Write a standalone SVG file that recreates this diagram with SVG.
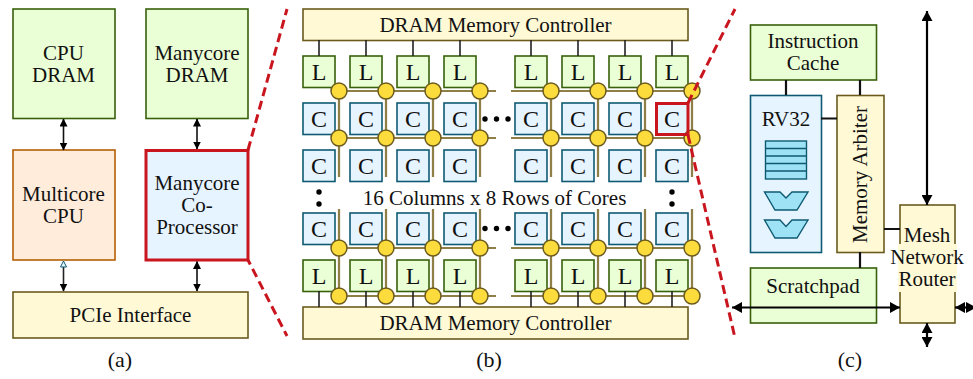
<svg xmlns="http://www.w3.org/2000/svg" xmlns:xlink="http://www.w3.org/1999/xlink" width="973" height="379" viewBox="0 0 973 379">
<style>
text{font-family:"Liberation Serif","Times New Roman",serif;font-size:21px;fill:#111;text-anchor:middle}
.big{font-size:24px}
.cap{font-size:22px}
.g{fill:#ebffd6;stroke:#38610b;stroke-width:1.6}
.o{fill:#ffecdb;stroke:#b45f06;stroke-width:1.6}
.b{fill:#e6f4ff;stroke:#0f5a73;stroke-width:1.6}
.y{fill:#fff9d6;stroke:#6b5a1e;stroke-width:1.6}
.red{fill:none;stroke:#c9151e;stroke-width:3}
.dash{stroke:#c9151e;stroke-width:3;stroke-dasharray:9 5;fill:none}
.w{stroke:#6f5f26;stroke-width:2.2;fill:none}
.wi{stroke:#d8cc96;stroke-width:.6;fill:none}
.r{fill:#fbdc3c;stroke:#6b5a1e;stroke-width:1.5}
.k{stroke:#222;stroke-width:1.6;fill:none}
.k2{stroke:#111;stroke-width:2.2;fill:none}
.a{stroke:#111;stroke-width:1.6;fill:none;marker-start:url(#h);marker-end:url(#h)}
.a2{stroke:#000;stroke-width:2.2;fill:none;marker-start:url(#h2);marker-end:url(#h2)}
.dot{fill:#000}
.t{fill:#9de3f5;stroke:#0f5a73;stroke-width:1.4}
</style>
<defs>
<marker id="h" markerUnits="userSpaceOnUse" viewBox="0 0 8 8" refX="7.500" refY="4" markerWidth="8" markerHeight="8" orient="auto-start-reverse"><path d="M0 0L8 4L0 8Z" fill="#000"/></marker>
<marker id="h2" markerUnits="userSpaceOnUse" viewBox="0 0 10 11" refX="10" refY="5.500" markerWidth="10" markerHeight="11" orient="auto-start-reverse"><path d="M0 0L10 5.500L0 11Z" fill="#000"/></marker>
<g id="lb"><rect class="g" width="32" height="31.500"/><text class="big" x="16" y="24">L</text></g>
<g id="cb"><rect class="b" width="32" height="31.500"/><text class="big" x="16" y="24">C</text></g>
</defs>

<g id="wires">
<path class="w" d="M339 91H496M339 138H496M511 91H692M511 138H692M339 248H496M339 296H496M511 248H692M511 296H692M339 91V177M386 91V177M433 91V177M480 91V177M551 91V177M598 91V177M645 91V177M692 91V177M339 209V296M386 209V296M433 209V296M480 209V296M551 209V296M598 209V296M645 209V296M692 209V296"/>
<path class="wi" d="M339 91H496M339 138H496M511 91H692M511 138H692M339 248H496M339 296H496M511 248H692M511 296H692M339 91V177M386 91V177M433 91V177M480 91V177M551 91V177M598 91V177M645 91V177M692 91V177M339 209V296M386 209V296M433 209V296M480 209V296M551 209V296M598 209V296M645 209V296M692 209V296"/>
</g>

<g id="cpu-dram"><rect class="g" x="13" y="9" width="102" height="109.500"/><text x="63.500" y="60">CPU</text><text x="63.500" y="82">DRAM</text></g>
<g id="manycore-dram"><rect class="g" x="146" y="9" width="102" height="109.500"/><text x="197" y="60">Manycore</text><text x="197" y="82">DRAM</text></g>
<g id="multicore-cpu"><rect class="o" x="13" y="150" width="102" height="110"/><text x="63.500" y="201">Multicore</text><text x="63.500" y="223">CPU</text></g>
<g id="coprocessor"><rect class="b" x="146" y="150.500" width="102" height="109.500" style="stroke:#c9151e;stroke-width:3"/><text x="197" y="190">Manycore</text><text x="197" y="212">Co-</text><text x="197" y="234">Processor</text></g>
<g id="pcie"><rect class="y" x="13" y="292" width="235" height="46"/><text x="130.500" y="322">PCIe Interface</text></g>
<path class="dash" d="M248 150L287 9"/>
<path class="dash" style="stroke-dashoffset:4" d="M248 260L287 336"/>

<g id="dram-top"><rect class="y" x="303" y="9" width="385" height="31.500"/><text x="495.500" y="32">DRAM Memory Controller</text></g>
<g id="dram-bottom"><rect class="y" x="303" y="307" width="385" height="32"/><text x="495.500" y="330">DRAM Memory Controller</text></g>

<g id="l-top">
<use xlink:href="#lb" x="303" y="56"/><use xlink:href="#lb" x="350" y="56"/><use xlink:href="#lb" x="397" y="56"/><use xlink:href="#lb" x="444" y="56"/><use xlink:href="#lb" x="515" y="56"/><use xlink:href="#lb" x="562" y="56"/><use xlink:href="#lb" x="609" y="56"/><use xlink:href="#lb" x="656" y="56"/>
</g>
<g id="c-row1">
<use xlink:href="#cb" x="303" y="103"/><use xlink:href="#cb" x="350" y="103"/><use xlink:href="#cb" x="397" y="103"/><use xlink:href="#cb" x="444" y="103"/><use xlink:href="#cb" x="515" y="103"/><use xlink:href="#cb" x="562" y="103"/><use xlink:href="#cb" x="609" y="103"/><use xlink:href="#cb" x="656" y="103"/>
</g>
<g id="c-row2">
<use xlink:href="#cb" x="303" y="150"/><use xlink:href="#cb" x="350" y="150"/><use xlink:href="#cb" x="397" y="150"/><use xlink:href="#cb" x="444" y="150"/><use xlink:href="#cb" x="515" y="150"/><use xlink:href="#cb" x="562" y="150"/><use xlink:href="#cb" x="609" y="150"/><use xlink:href="#cb" x="656" y="150"/>
</g>
<g id="c-row3">
<use xlink:href="#cb" x="303" y="213"/><use xlink:href="#cb" x="350" y="213"/><use xlink:href="#cb" x="397" y="213"/><use xlink:href="#cb" x="444" y="213"/><use xlink:href="#cb" x="515" y="213"/><use xlink:href="#cb" x="562" y="213"/><use xlink:href="#cb" x="609" y="213"/><use xlink:href="#cb" x="656" y="213"/>
</g>
<g id="l-bottom">
<use xlink:href="#lb" x="303" y="260"/><use xlink:href="#lb" x="350" y="260"/><use xlink:href="#lb" x="397" y="260"/><use xlink:href="#lb" x="444" y="260"/><use xlink:href="#lb" x="515" y="260"/><use xlink:href="#lb" x="562" y="260"/><use xlink:href="#lb" x="609" y="260"/><use xlink:href="#lb" x="656" y="260"/>
</g>
<g id="routers">
<circle class="r" cx="339" cy="91" r="8"/><circle class="r" cx="386" cy="91" r="8"/><circle class="r" cx="433" cy="91" r="8"/><circle class="r" cx="480" cy="91" r="8"/><circle class="r" cx="551" cy="91" r="8"/><circle class="r" cx="598" cy="91" r="8"/><circle class="r" cx="645" cy="91" r="8"/><circle class="r" cx="692" cy="91" r="8"/>
<circle class="r" cx="339" cy="138" r="8"/><circle class="r" cx="386" cy="138" r="8"/><circle class="r" cx="433" cy="138" r="8"/><circle class="r" cx="480" cy="138" r="8"/><circle class="r" cx="551" cy="138" r="8"/><circle class="r" cx="598" cy="138" r="8"/><circle class="r" cx="645" cy="138" r="8"/><circle class="r" cx="692" cy="138" r="8"/>
<circle class="r" cx="339" cy="248" r="8"/><circle class="r" cx="386" cy="248" r="8"/><circle class="r" cx="433" cy="248" r="8"/><circle class="r" cx="480" cy="248" r="8"/><circle class="r" cx="551" cy="248" r="8"/><circle class="r" cx="598" cy="248" r="8"/><circle class="r" cx="645" cy="248" r="8"/><circle class="r" cx="692" cy="248" r="8"/>
<circle class="r" cx="339" cy="296" r="8"/><circle class="r" cx="386" cy="296" r="8"/><circle class="r" cx="433" cy="296" r="8"/><circle class="r" cx="480" cy="296" r="8"/><circle class="r" cx="551" cy="296" r="8"/><circle class="r" cx="598" cy="296" r="8"/><circle class="r" cx="645" cy="296" r="8"/><circle class="r" cx="692" cy="296" r="8"/>
</g>
<g id="dots">
<circle class="dot" cx="485" cy="119" r="2.700"/><circle class="dot" cx="496.500" cy="119" r="2.700"/><circle class="dot" cx="508" cy="119" r="2.700"/>
<circle class="dot" cx="485" cy="228.500" r="2.700"/><circle class="dot" cx="496.500" cy="228.500" r="2.700"/><circle class="dot" cx="508" cy="228.500" r="2.700"/>
<circle class="dot" cx="319" cy="192" r="2.700"/><circle class="dot" cx="319" cy="204" r="2.700"/>
<circle class="dot" cx="672" cy="192" r="2.700"/><circle class="dot" cx="672" cy="204" r="2.700"/>
</g>
<text id="grid-label" x="494.500" y="205">16 Columns x 8 Rows of Cores</text>
<rect id="selected-core" class="red" x="656.500" y="103.500" width="31.500" height="31"/>
<path class="dash" d="M688 103L735 9"/>
<path class="dash" d="M688 135L735 338"/>

<g id="instruction-cache"><rect class="g" x="750.500" y="25" width="126" height="55"/><text x="813" y="48">Instruction</text><text x="813" y="70">Cache</text></g>
<g id="rv32"><rect class="b" x="750.500" y="95.500" width="71" height="157"/><text x="786" y="126">RV32</text>
<rect class="t" x="765.500" y="141" width="41" height="38"/><path class="k" style="stroke:#0f5a73" d="M765.500 148.500H806.500M765.500 156H806.500M765.500 163.500H806.500M765.500 171H806.500"/>
<path class="t" d="M764.500 192H780L786 198L792 192H808L797 210H775Z"/>
<path class="t" d="M764.500 220H780L786 226.500L792 220H808L797 238H775Z"/>
</g>
<g id="memory-arbiter"><rect class="y" x="837" y="95.500" width="47" height="157"/><text transform="translate(867 174.500) rotate(-90)">Memory Arbiter</text></g>
<g id="scratchpad"><rect class="g" x="750.500" y="268" width="126" height="55"/><text x="813" y="293">Scratchpad</text></g>
<g id="mesh-router"><rect class="y" x="900" y="205" width="55" height="118"/><rect x="898" y="244" width="59" height="48" fill="#fff9d6"/><text x="927" y="242">Mesh</text><text x="927" y="264">Network</text><text x="927" y="286">Router</text></g>

<g id="connectors">
<path class="a" d="M63.500 119V150"/>
<path class="a" d="M197 119V149"/>
<path class="a" d="M197 261.500V291"/>
<path class="k" d="M63.500 267V291" marker-end="url(#h)"/>
<path d="M60.500 267L63.500 261L66.500 267Z" fill="#e6f4ff" stroke="#0f5a73"/>
<path class="k" d="M319 40V56M366 40V56M413 40V56M460 40V56M531 40V56M578 40V56M625 40V56M672 40V56M319 291V307M366 291V307M413 291V307M460 291V307M531 291V307M578 291V307M625 291V307M672 291V307"/>
<path class="k2" d="M786 80V95M860 80V95M821 118.500H837M860 252V268M884 229H900"/>
<path class="a2" d="M927 11V205"/>
<path class="a2" d="M732 307.500H900"/>
<path class="a2" d="M955 307.500H976"/>
<path class="a2" d="M927 323V347"/>
</g>

<text class="cap" x="120" y="367">(a)</text>
<text class="cap" x="489" y="367">(b)</text>
<text class="cap" x="850" y="367">(c)</text>
</svg>
